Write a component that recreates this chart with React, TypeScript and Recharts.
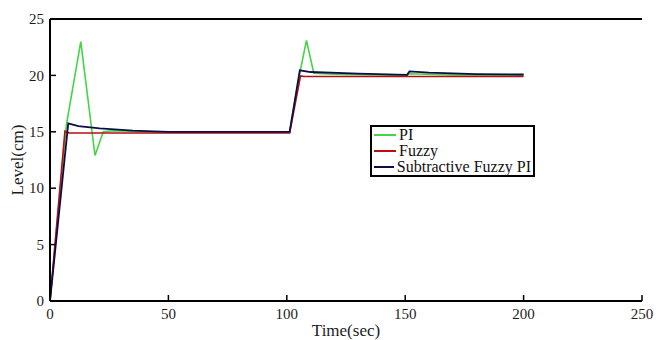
import React from 'react';
import { LineChart, Line, XAxis, YAxis, Legend } from 'recharts';

// Axis ticks
const timeTicks = [0, 50, 100, 150, 200, 250];
const levelTicks = [0, 5, 10, 15, 20, 25];

// PI controller response
const piTime = [0, 6.9, 13, 19, 22.5, 27, 40, 100, 101.2, 105.3, 108.3, 111.4, 120, 150.8, 151.8, 170, 200];
const piLevel = [0, 15.6, 23.0, 12.9, 15.0, 15.1, 15.0, 15.0, 15.0, 20.0, 23.1, 20.2, 20.1, 20.0, 20.15, 20.05, 20.0];

// Fuzzy controller response
const fuzzyTime = [0, 6.3, 8, 100, 101.2, 105.8, 107.5, 200];
const fuzzyLevel = [0, 15.05, 14.9, 14.9, 14.9, 19.95, 19.9, 19.9];

// Subtractive fuzzy PI controller response
const sfpiTime = [0, 7.7, 12, 21, 35, 50, 100, 101.2, 105.5, 110, 130, 150.8, 151.8, 160, 180, 200];
const sfpiLevel = [0, 15.75, 15.5, 15.3, 15.1, 15.0, 15.0, 15.0, 20.45, 20.3, 20.15, 20.05, 20.35, 20.25, 20.12, 20.08];

const seriesNames = ['PI', 'Fuzzy', 'Subtractive Fuzzy PI'];

const PI_COLOR = '#46d446';
const FUZZY_COLOR = '#b80f0f';
const SFPI_COLOR = '#0c0c4a';
const FONT = '"Liberation Serif", "Times New Roman", serif';
const TICK_LEN = 6;
const TEXT_COLOR = '#1c1c1c';

const toPoints = (ts: number[], vs: number[]) => ts.map((t, i) => ({ t, v: vs[i] }));

const BottomTick = (props: any) => {
  const { x, y, payload } = props;
  const axisY = y - 7;
  return (
    <g>
      <line x1={x} x2={x} y1={axisY} y2={axisY - TICK_LEN} stroke="#000" strokeWidth={1.5} />
      <text x={x} y={y} dy="0.71em" textAnchor="middle" fontSize={15} fontFamily={FONT} fill={TEXT_COLOR}>
        {payload.value}
      </text>
    </g>
  );
};

const LeftTick = (props: any) => {
  const { x, y, payload } = props;
  const axisX = x + 6;
  return (
    <g>
      <line x1={axisX} x2={axisX + TICK_LEN} y1={y} y2={y} stroke="#000" strokeWidth={1.5} />
      <text x={x} y={y} dy="0.35em" textAnchor="end" fontSize={15} fontFamily={FONT} fill={TEXT_COLOR}>
        {payload.value}
      </text>
    </g>
  );
};

const TopTick = (props: any) => {
  const { x, y } = props;
  return <line x1={x} x2={x} y1={y} y2={y + TICK_LEN} stroke="#000" strokeWidth={1.5} />;
};

const RightTick = (props: any) => {
  const { x, y } = props;
  return <line x1={x} x2={x - TICK_LEN} y1={y} y2={y} stroke="#000" strokeWidth={1.5} />;
};

const LegendBox = (props: any) => {
  const payload = [...(props.payload || [])].sort(
    (a: any, b: any) => seriesNames.indexOf(a.value) - seriesNames.indexOf(b.value)
  );
  return (
    <div
      style={{
        border: '2px solid #000',
        background: '#fff',
        boxSizing: 'border-box',
        width: 165,
        padding: '0 2px',
        fontFamily: FONT,
        fontSize: 16,
        color: '#111',
      }}
    >
      {payload.map((entry: any) => (
        <div key={entry.value} style={{ display: 'flex', alignItems: 'center', height: 16, lineHeight: '16px', whiteSpace: 'nowrap' }}>
          <span style={{ display: 'inline-block', width: 22, height: 0, borderTop: `2px solid ${entry.color}`, marginRight: 3 }} />
          <span>{entry.value}</span>
        </div>
      ))}
    </div>
  );
};

export default function App() {
  return (
    <div style={{ width: 657, height: 340, background: '#fff' }}>
      <style>{'body{margin:0;background:#fff}'}</style>
      <LineChart width={657} height={340} margin={{ top: 0, right: 15, bottom: 0, left: 0 }}>
        <XAxis
          xAxisId="bottom"
          dataKey="t"
          type="number"
          domain={[0, 250]}
          ticks={timeTicks}
          height={39}
          tickSize={0}
          tickMargin={7}
          tickLine={false}
          axisLine={{ stroke: '#000', strokeWidth: 2 }}
          tick={<BottomTick />}
          interval={0}
          allowDuplicatedCategory={false}
          label={{ value: 'Time(sec)', position: 'insideBottom', offset: 4, style: { fontFamily: FONT, fontSize: 17, fill: TEXT_COLOR } }}
        />
        <XAxis
          xAxisId="top"
          orientation="top"
          dataKey="t"
          type="number"
          domain={[0, 250]}
          ticks={timeTicks}
          height={19}
          tickSize={0}
          tickMargin={0}
          tickLine={false}
          axisLine={{ stroke: '#000', strokeWidth: 2 }}
          tick={<TopTick />}
          interval={0}
        />
        <YAxis
          yAxisId="left"
          type="number"
          domain={[0, 25]}
          ticks={levelTicks}
          width={50}
          tickSize={0}
          tickMargin={6}
          tickLine={false}
          axisLine={{ stroke: '#000', strokeWidth: 2 }}
          tick={<LeftTick />}
          interval={0}
          label={{ value: 'Level(cm)', angle: -90, position: 'insideLeft', offset: 17, style: { textAnchor: 'middle', fontFamily: FONT, fontSize: 17, fill: TEXT_COLOR } }}
        />
        <YAxis
          yAxisId="right"
          orientation="right"
          type="number"
          domain={[0, 25]}
          ticks={levelTicks}
          width={0}
          tickSize={0}
          tickMargin={0}
          tickLine={false}
          axisLine={{ stroke: '#000', strokeWidth: 2 }}
          tick={<RightTick />}
          interval={0}
        />
        <Legend
          layout="vertical"
          align="center"
          verticalAlign="middle"
          content={<LegendBox />}
          wrapperStyle={{ left: 370, top: 125, width: 165 }}
        />
        <Line
          xAxisId="bottom"
          yAxisId="left"
          data={toPoints(piTime, piLevel)}
          dataKey="v"
          name={seriesNames[0]}
          stroke={PI_COLOR}
          strokeWidth={1.6}
          dot={false}
          isAnimationActive={false}
        />
        <Line
          xAxisId="bottom"
          yAxisId="left"
          data={toPoints(fuzzyTime, fuzzyLevel)}
          dataKey="v"
          name={seriesNames[1]}
          stroke={FUZZY_COLOR}
          strokeWidth={1.6}
          dot={false}
          isAnimationActive={false}
        />
        <Line
          xAxisId="bottom"
          yAxisId="left"
          data={toPoints(sfpiTime, sfpiLevel)}
          dataKey="v"
          name={seriesNames[2]}
          stroke={SFPI_COLOR}
          strokeWidth={1.8}
          dot={false}
          isAnimationActive={false}
        />
      </LineChart>
    </div>
  );
}
